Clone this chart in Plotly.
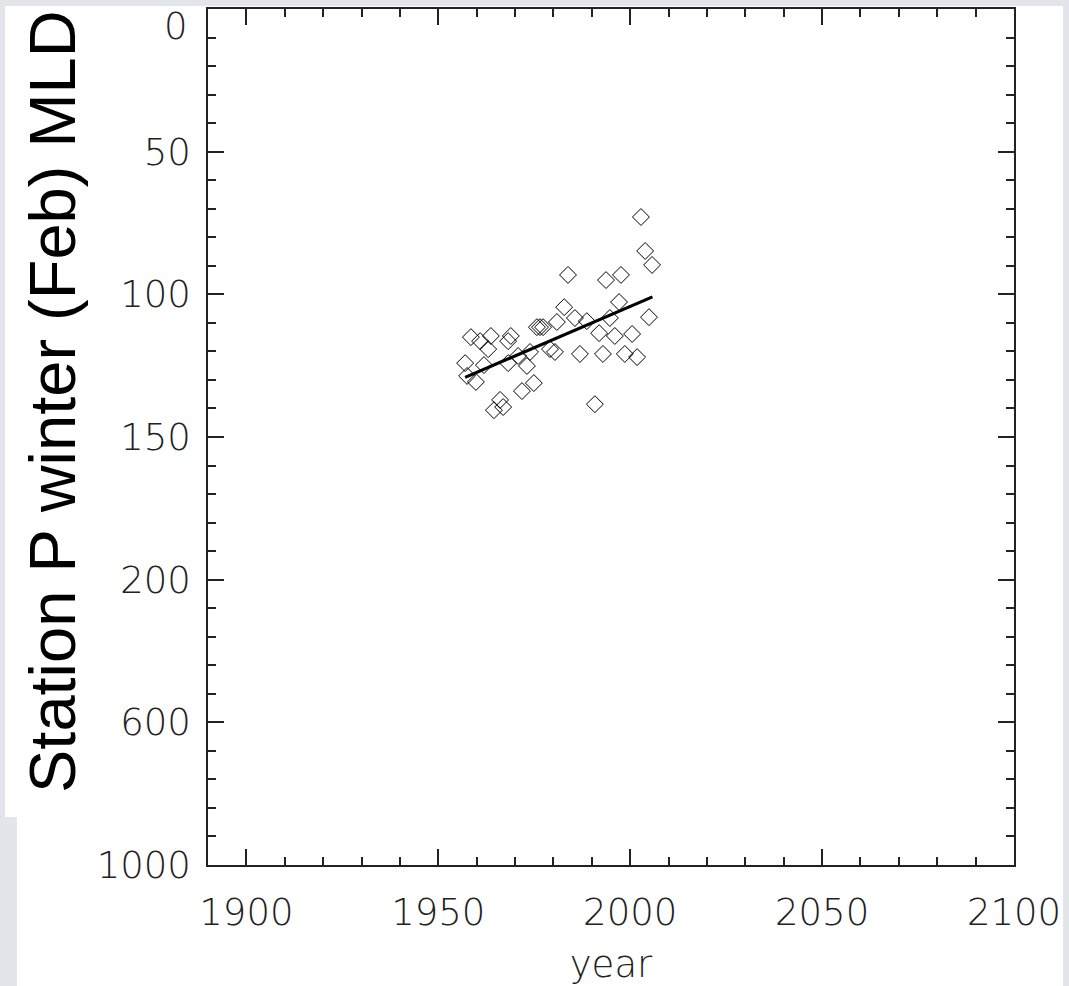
import plotly.graph_objects as go

# ---- data ----
years = [1957.0, 1957.5, 1958.5, 1959.8, 1960.9, 1961.9, 1963.0, 1963.7, 1964.5, 1966.1,
         1966.9, 1968.2, 1968.2, 1968.9, 1970.8, 1971.8, 1973.1, 1973.9, 1974.9, 1975.7,
         1976.5, 1977.3, 1979.1, 1980.4, 1980.9, 1982.8, 1983.8, 1985.6, 1986.9, 1988.7,
         1990.8, 1991.9, 1992.9, 1993.7, 1994.7, 1996.0, 1997.1, 1997.6, 1998.6, 2000.5,
         2001.8, 2002.8, 2003.9, 2004.9, 2005.7]
mld = [124.1, 128.6, 115.0, 130.7, 116.4, 124.8, 119.2, 114.6, 140.6, 137.0,
       139.5, 124.1, 116.4, 114.6, 121.6, 133.9, 125.1, 120.2, 131.1, 111.5,
       111.5, 111.5, 119.2, 120.2, 109.7, 104.5, 93.2, 108.3, 120.9, 109.4,
       138.5, 113.6, 120.9, 95.0, 108.3, 114.6, 102.7, 93.2, 120.9, 113.9,
       122.0, 72.9, 84.8, 108.0, 89.7]

trend_years = [1957.0, 2005.8]
trend_mld = [129.1, 100.9]

x_tickvals = [1900, 1950, 2000, 2050, 2100]
y_tickvals = [0, 50, 100, 150, 200, 250, 300]
y_ticktext = ["0", "50", "100", "150", "200", "600", "1000"]

TICKFONT = dict(family="DejaVu Sans", size=37, color="#222222", weight=200)

fig = go.Figure()
fig.add_trace(go.Scatter(
    x=years, y=mld, mode="markers",
    marker=dict(symbol="diamond-open", size=13, color="black", line=dict(width=1, color="black")),
    showlegend=False, cliponaxis=False))
fig.add_trace(go.Scatter(
    x=trend_years, y=trend_mld, mode="lines",
    line=dict(color="black", width=3.2), showlegend=False))

L, R, T, B = 208, 55, 9, 121
W, H = 1069, 986
pw, ph = W - L - R, H - T - B

def px(x):
    return (x - L) / pw

def py(y):
    return (H - B - y) / ph

shapes = [
    dict(type="rect", xref="paper", yref="paper", x0=px(5), x1=px(1063), y0=py(817), y1=py(6),
         fillcolor="white", line=dict(width=0), layer="below"),
    dict(type="rect", xref="paper", yref="paper", x0=px(17), x1=px(1063), y0=py(986), y1=py(817),
         fillcolor="white", line=dict(width=0), layer="below"),
]

fig.update_layout(
    width=W, height=H,
    margin=dict(l=L, r=R, t=T, b=B, autoexpand=False),
    paper_bgcolor="#e2e5ea", plot_bgcolor="white",
    shapes=shapes,
    xaxis=dict(
        range=[1890, 2100], tickmode="array", tickvals=x_tickvals,
        ticks="inside", ticklen=16, tickwidth=1.5, tickcolor="#222222",
        minor=dict(dtick=10, tick0=1900, ticks="inside", ticklen=8, tickwidth=1.5, tickcolor="#222222"),
        showline=True, linecolor="#222222", linewidth=1.5, mirror="ticks",
        showgrid=False, zeroline=False, tickfont=TICKFONT, ticklabelstandoff=14,
        title=dict(text="year", font=TICKFONT, standoff=21), automargin=False),
    yaxis=dict(
        range=[300, 0], tickmode="array", tickvals=y_tickvals, ticktext=[""] + y_ticktext[1:],
        ticks="inside", ticklen=16, tickwidth=1.5, tickcolor="#222222",
        minor=dict(dtick=10, tick0=0, ticks="inside", ticklen=8, tickwidth=1.5, tickcolor="#222222"),
        showline=True, linecolor="#222222", linewidth=1.5, mirror="ticks",
        showgrid=False, zeroline=False, tickfont=TICKFONT, ticklabelstandoff=8,
        automargin=False),
    annotations=[
        dict(text=y_ticktext[0], xref="paper", yref="y", x=px(190), y=y_tickvals[0],
             xanchor="right", yanchor="middle", yshift=-17, showarrow=False, font=TICKFONT),
        dict(text="Station P winter (Feb) MLD", xref="paper", yref="paper",
             x=px(52), y=py(402), xanchor="center", yanchor="middle", textangle=-90,
             showarrow=False, font=dict(family="Liberation Sans, Arial", size=65, color="black")),
    ],
)

fig.write_html("out.html", config={"displayModeBar": False},
               post_script="document.body.style.margin='0';document.body.style.overflow='hidden';")
